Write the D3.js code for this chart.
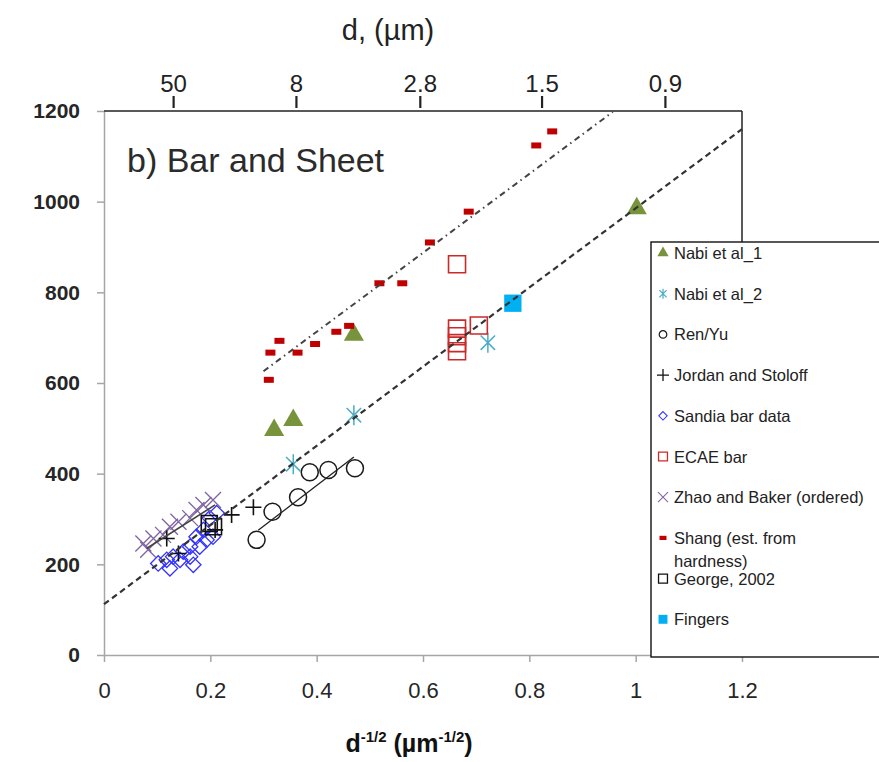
<!DOCTYPE html>
<html>
<head>
<meta charset="utf-8">
<script src="https://cdn.jsdelivr.net/npm/d3@7"></script>
<style>
  body { margin: 0; background: #fff; }
</style>
</head>
<body>
<div id="chart"></div>
<script>
// data: [d^-1/2, stress]
var nabi1 = [[0.320, 496], [0.356, 518], [0.470, 706], [1.002, 985]];
var nabi2 = [[0.356, 421], [0.470, 529], [0.722, 689]];
var renYu = [[0.287, 254], [0.317, 316], [0.365, 348], [0.387, 403], [0.422, 408], [0.472, 412]];
var jordan = [[0.118, 257], [0.140, 224], [0.209, 276], [0.240, 309], [0.281, 326]];
var sandia = [[0.102, 202], [0.124, 191], [0.143, 210], [0.162, 217], [0.168, 199], [0.180, 239],
              [0.193, 254], [0.205, 261], [0.212, 313], [0.199, 302], [0.162, 239], [0.149, 228],
              [0.130, 217], [0.118, 210], [0.174, 261], [0.187, 276]];
var ecae = [[0.664, 862], [0.664, 720], [0.664, 703], [0.664, 688], [0.664, 670], [0.705, 727]];
var zhao = [[0.074, 246], [0.083, 232], [0.093, 257], [0.111, 265], [0.124, 283], [0.140, 294],
            [0.162, 302], [0.174, 320], [0.187, 331], [0.205, 342]];
var shang = [[0.310, 607], [0.313, 667], [0.330, 693], [0.364, 667], [0.397, 686], [0.437, 713],
             [0.461, 726], [0.518, 820], [0.561, 820], [0.613, 910], [0.686, 978], [0.813, 1124],
             [0.843, 1155]];
var george = [[0.198, 290], [0.206, 283]];
var fingers = [[0.769, 776]];

// fit lines
var fitAll = [[0, 112], [1.2, 1160]];
var fitShang = [[0.30, 626], [0.957, 1198]];
var fitRen = [[0.29, 275], [0.47, 437]];
var fitZhao = [[0.08, 235], [0.209, 331]];

// axes
var xTicks = [0, 0.2, 0.4, 0.6, 0.8, 1, 1.2];
var xTickLabels = ["0", "0.2", "0.4", "0.6", "0.8", "1", "1.2"];
var yTicks = [0, 200, 400, 600, 800, 1000, 1200];
var yTickLabels = ["0", "200", "400", "600", "800", "1000", "1200"];
var topTicks = [0.13, 0.361, 0.594, 0.823, 1.055];
var topTickLabels = ["50", "8", "2.8", "1.5", "0.9"];

var legendLabels = ["Nabi et al_1", "Nabi et al_2", "Ren/Yu", "Jordan and Stoloff", "Sandia bar data",
                    "ECAE bar", "Zhao and Baker (ordered)", "Shang (est. from|hardness)", "George, 2002", "Fingers"];

var margin = {top: 111, right: 137, bottom: 107, left: 104},
    width = 879 - margin.left - margin.right,
    height = 762 - margin.top - margin.bottom;

var svg = d3.select("#chart")
  .append("svg")
    .attr("width", 879)
    .attr("height", 762);

var g = svg.append("g")
    .attr("transform", "translate(" + margin.left + "," + margin.top + ")");

var x = d3.scaleLinear().domain([0, 1.2]).range([0, width]);
var y = d3.scaleLinear().domain([0, 1200]).range([height, 0]);

var labelFont = "'Liberation Sans', Arial, sans-serif";

// y axis
var yAxis = g.append("g")
  .call(d3.axisLeft(y).tickValues(yTicks).tickFormat(function(d, i) { return yTickLabels[i]; })
    .tickSize(7).tickSizeOuter(0).tickPadding(17));
yAxis.select(".domain").attr("stroke", "#a6a6a6").attr("stroke-width", 1.5);
yAxis.selectAll(".tick line").attr("stroke", "#a6a6a6").attr("stroke-width", 1.5);
yAxis.selectAll("text")
  .attr("font-family", labelFont).attr("font-size", 21).attr("font-weight", "bold").attr("fill", "#262626");

// x axis
var xAxis = g.append("g")
  .attr("transform", "translate(0," + height + ")")
  .call(d3.axisBottom(x).tickValues(xTicks).tickFormat(function(d, i) { return xTickLabels[i]; })
    .tickSize(7).tickSizeOuter(0).tickPadding(20));
xAxis.select(".domain").attr("stroke", "#a6a6a6").attr("stroke-width", 1.5);
xAxis.selectAll(".tick line").attr("stroke", "#a6a6a6").attr("stroke-width", 1.5);
xAxis.selectAll("text")
  .attr("font-family", labelFont).attr("font-size", 22).attr("fill", "#262626");

// frame: top and right
g.append("line").attr("x1", 0).attr("x2", width).attr("y1", 0).attr("y2", 0)
  .attr("stroke", "#222").attr("stroke-width", 1.5);
g.append("line").attr("x1", width).attr("x2", width).attr("y1", 0).attr("y2", height)
  .attr("stroke", "#222").attr("stroke-width", 1.5);

// top axis (grain size d)
var topAxis = g.append("g")
  .attr("transform", "translate(0,-3)")
  .call(d3.axisTop(x).tickValues(topTicks).tickFormat(function(d, i) { return topTickLabels[i]; })
    .tickSize(12).tickSizeOuter(0).tickPadding(4));
topAxis.select(".domain").remove();
topAxis.selectAll(".tick line").attr("stroke", "#222").attr("stroke-width", 2.2);
topAxis.selectAll("text")
  .attr("font-family", labelFont).attr("font-size", 24).attr("fill", "#222");

// marker shapes
var shapes = {
  triangle: function(s) { return d3.symbol().type(d3.symbolTriangle).size(s)(); },
  circle: function(s) { return d3.symbol().type(d3.symbolCircle).size(s)(); },
  square: function(s) { return d3.symbol().type(d3.symbolSquare).size(s)(); },
  diamond: function(s) { return d3.symbol().type(d3.symbolDiamond2).size(s)(); },
  plus: function(r) { return "M" + (-r) + ",0H" + r + "M0," + (-r) + "V" + r; },
  times: function(r) { return "M" + (-r) + "," + (-r) + "L" + r + "," + r + "M" + (-r) + "," + r + "L" + r + "," + (-r); },
  star: function(r) { var k = r * 0.72; return "M0," + (-r) + "V" + r + "M" + (-k) + "," + (-k) + "L" + k + "," + k + "M" + (-k) + "," + k + "L" + k + "," + (-k); },
  dash: function(w) { return "M" + (-w / 2) + "," + (-w * 0.3) + "h" + w + "v" + (w * 0.6) + "h" + (-w) + "Z"; }
};

var series = [
  {data: nabi1, shape: "triangle", size: 175, lsize: 55, fill: "#77933c", stroke: "none", sw: 0},
  {data: nabi2, shape: "star", size: 10, lsize: 5, fill: "none", stroke: "#4bacc6", sw: 1.5},
  {data: renYu, shape: "circle", size: 227, lsize: 45, fill: "none", stroke: "#1a1a1a", sw: 1.5},
  {data: jordan, shape: "plus", size: 8, lsize: 6, fill: "none", stroke: "#111", sw: 1.6},
  {data: sandia, shape: "diamond", size: 150, lsize: 45, fill: "none", stroke: "#3333ff", sw: 1.3},
  {data: ecae, shape: "square", size: 289, lsize: 80, fill: "none", stroke: "#cc2a2a", sw: 1.6},
  {data: zhao, shape: "times", size: 8, lsize: 5, fill: "none", stroke: "#8064a2", sw: 1.3},
  {data: shang, shape: "dash", size: 10, lsize: 7, fill: "#c00000", stroke: "none", sw: 0},
  {data: george, shape: "square", size: 256, lsize: 80, fill: "none", stroke: "#111", sw: 1.6},
  {data: fingers, shape: "square", size: 300, lsize: 80, fill: "#00b0f0", stroke: "none", sw: 0}
];

// draw markers (back to front as in the source)
var drawOrder = [4, 6, 8, 3, 2, 0, 1, 5, 7, 9];
drawOrder.forEach(function(i) {
  var s = series[i];
  g.append("g").selectAll("path")
    .data(s.data)
    .enter().append("path")
      .attr("transform", function(d) { return "translate(" + x(d[0]) + "," + y(d[1]) + ")"; })
      .attr("d", shapes[s.shape](s.size))
      .attr("fill", s.fill)
      .attr("stroke", s.stroke)
      .attr("stroke-width", s.sw);
});

// trend lines
var line = d3.line().x(function(d) { return x(d[0]); }).y(function(d) { return y(d[1]); });

g.append("path").datum(fitAll)
  .attr("fill", "none").attr("stroke", "#333").attr("stroke-width", 2.2)
  .attr("stroke-dasharray", "6,4").attr("d", line);
g.append("path").datum(fitShang)
  .attr("fill", "none").attr("stroke", "#444").attr("stroke-width", 2)
  .attr("stroke-dasharray", "6,4,1.5,4").attr("d", line);
g.append("path").datum(fitRen)
  .attr("fill", "none").attr("stroke", "#222").attr("stroke-width", 1.3).attr("d", line);
g.append("path").datum(fitZhao)
  .attr("fill", "none").attr("stroke", "#444").attr("stroke-width", 1.6).attr("d", line);

// panel label
svg.append("text")
  .attr("x", 127).attr("y", 172)
  .attr("font-family", labelFont).attr("font-size", 34).attr("fill", "#2b2b2b")
  .text("b) Bar and Sheet");

// top title
svg.append("text")
  .attr("x", 388).attr("y", 40).attr("text-anchor", "middle")
  .attr("font-family", labelFont).attr("font-size", 29).attr("fill", "#222")
  .text("d, (\u00b5m)");

// x title
var xt = svg.append("text")
  .attr("x", 409).attr("y", 752).attr("text-anchor", "middle")
  .attr("font-family", labelFont).attr("font-size", 25).attr("font-weight", "bold").attr("fill", "#111");
xt.append("tspan").text("d");
xt.append("tspan").attr("font-size", 15).attr("dy", -10).text("-1/2");
xt.append("tspan").attr("dy", 10).text(" (\u00b5m");
xt.append("tspan").attr("font-size", 15).attr("dy", -10).text("-1/2");
xt.append("tspan").attr("dy", 10).text(")");

// legend
var legend = svg.append("g").attr("transform", "translate(651,242)");
legend.append("rect")
  .attr("width", 240).attr("height", 415)
  .attr("fill", "#fff").attr("stroke", "#111").attr("stroke-width", 1.4);

var rowY = function(i) { return 11 + i * 40.7; };
series.forEach(function(s, i) {
  legend.append("path")
    .attr("transform", "translate(12," + rowY(i) + ")")
    .attr("d", shapes[s.shape](s.lsize))
    .attr("fill", s.fill)
    .attr("stroke", s.stroke)
    .attr("stroke-width", s.sw * 0.8);
  var t = legend.append("text")
    .attr("x", 23).attr("y", rowY(i) + 6)
    .attr("font-family", labelFont).attr("font-size", 16.5).attr("fill", "#222");
  legendLabels[i].split("|").forEach(function(part, j) {
    t.append("tspan").attr("x", 23).attr("dy", j === 0 ? 0 : 23).text(part);
  });
});
</script>
</body>
</html>
